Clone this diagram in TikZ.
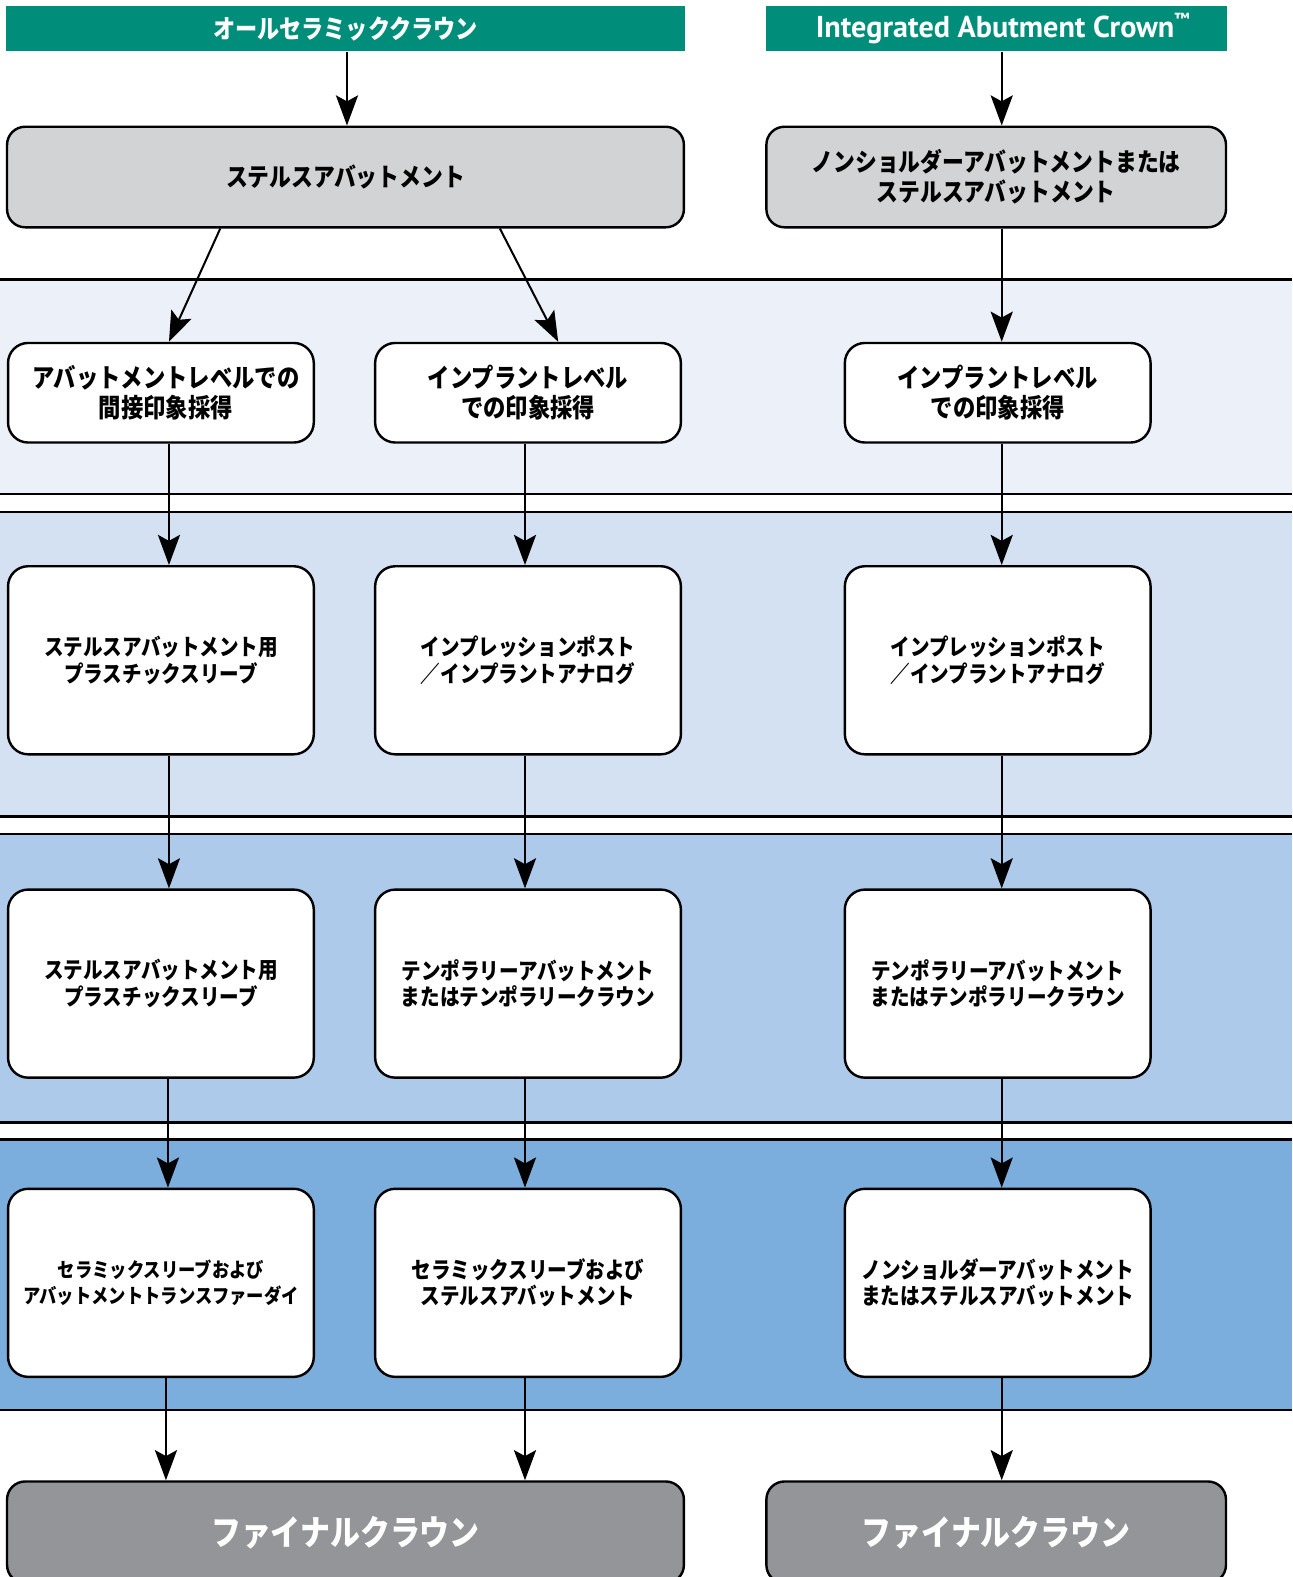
\documentclass[tikz,border=0pt]{standalone}
\usepackage{fontspec}
\setmainfont{Noto Sans CJK JP}[FakeStretch=0.86]
\newfontfamily\latinhead{PT Sans}
\usetikzlibrary{arrows.meta}

\definecolor{headteal}{RGB}{0,142,122}
\definecolor{boxgray}{RGB}{209,211,212}
\definecolor{finalgray}{RGB}{147,149,152}
\definecolor{bandA}{RGB}{236,241,249}
\definecolor{bandB}{RGB}{212,225,242}
\definecolor{bandC}{RGB}{173,202,234}
\definecolor{bandD}{RGB}{123,174,221}

\begin{document}
\begin{tikzpicture}[x=0.5pt,y=-0.5pt,
  header/.style={fill=headteal, text=white, minimum height=22.5pt, inner sep=0pt},
  topbox/.style={draw=black, line width=1.2pt, rounded corners=9pt, fill=boxgray,
    minimum height=50pt, inner sep=0pt, align=center,
    font=\bfseries\fontsize{12.6}{15}\selectfont},
  stepbox/.style={draw=black, line width=1.2pt, rounded corners=10pt, fill=white,
    minimum width=152pt, inner sep=0pt, align=center},
  lvlone/.style={stepbox, minimum height=49.5pt, font=\bfseries\fontsize{12.9}{15}\selectfont},
  lvlmid/.style={stepbox, minimum height=93.5pt, font=\bfseries\fontsize{11.3}{13.2}\selectfont},
  finalbox/.style={draw=black, line width=1.2pt, rounded corners=9pt, fill=finalgray,
    text=white, minimum height=50.5pt, inner sep=0pt,
    font=\bfseries\fontsize{17.3}{20}\selectfont},
  bandline/.style={line width=1.2pt, draw=black},
  arr/.style={line width=1pt, -{Stealth[length=15pt,width=11pt,inset=3pt]}}
]
\useasboundingbox (0,0) rectangle (1285,1568);
\clip (0,0) rectangle (1285,1568);
\fill[white] (0,0) rectangle (1285,1568);

% coloured stage bands
\fill[bandA] (0,278) rectangle (1285,491);
\fill[bandB] (0,509) rectangle (1285,812);
\fill[bandC] (0,829) rectangle (1285,1116);
\fill[bandD] (0,1133) rectangle (1285,1402);
\foreach \yy in {278,491,509,812,829,1116,1133,1402}
  \draw[bandline] (0,\yy) -- (1285,\yy);

% column guides for vertical connectors
\coordinate (xa) at (168,0);
\coordinate (xa3) at (167,0);
\coordinate (xa4) at (165,0);
\coordinate (xb) at (522,0);
\coordinate (xc) at (996,0);
\coordinate (xl) at (345,0);
\coordinate (dl) at (219,0);
\coordinate (dr) at (497,0);
\coordinate (er) at (555,0);

% headers
\node[header, minimum width=337.5pt, font=\bfseries\fontsize{12.8}{15}\selectfont]
  (hl) at (343.5,28.5) {オールセラミッククラウン};
\node[header, minimum width=229pt, text height=11pt, text depth=2.5pt,
  font=\latinhead\bfseries\fontsize{15}{17}\selectfont]
  (hr) at (991,28.5) {\hspace*{6pt}Integrated Abutment Crown\raisebox{0.42em}{\fontsize{8}{8}\selectfont™}};

% abutment selection
\node[topbox, minimum width=336.5pt] (tl) at (343.5,176) {ステルスアバットメント};
\node[topbox, minimum width=228.5pt] (tr) at (990.5,176)
  {ノンショルダーアバットメントまたは\\ステルスアバットメント};

% impression taking
\node[lvlone] (a1) at (160,390.5) {\hspace*{5pt}アバットメントレベルでの\\\hspace*{5pt}間接印象採得};
\node[lvlone] (b1) at (525,390.5) {インプラントレベル\\での印象採得};
\node[lvlone] (c1) at (992,390.5) {インプラントレベル\\での印象採得};

% laboratory components
\node[lvlmid] (a2) at (160,656.5) {ステルスアバットメント用\\プラスチックスリーブ};
\node[lvlmid] (b2) at (525,656.5) {インプレッションポスト\\／インプラントアナログ};
\node[lvlmid] (c2) at (992,656.5) {インプレッションポスト\\／インプラントアナログ};

\node[lvlmid] (a3) at (160,978) {ステルスアバットメント用\\プラスチックスリーブ};
\node[lvlmid] (b3) at (525,978) {テンポラリーアバットメント\\またはテンポラリークラウン};
\node[lvlmid] (c3) at (992,978) {テンポラリーアバットメント\\またはテンポラリークラウン};

\node[lvlmid, font=\bfseries\fontsize{10}{13}\selectfont] (a4) at (160,1275.5)
  {セラミックスリーブおよび\\アバットメントトランスファーダイ};
\node[lvlmid] (b4) at (525,1275.5) {セラミックスリーブおよび\\ステルスアバットメント};
\node[lvlmid] (c4) at (992,1275.5) {ノンショルダーアバットメント\\またはステルスアバットメント};

% final restorations
\node[finalbox, minimum width=336.5pt] (fl) at (343.5,1523.5) {ファイナルクラウン};
\node[finalbox, minimum width=228.5pt] (fr) at (990.5,1523.5) {ファイナルクラウン};

% connectors
\draw[arr] (hl.south -| xl) -- (tl.north -| xl);
\draw[arr] (hr.south -| xc) -- (tr.north -| xc);
\draw[arr] (tl.south -| dl) -- (a1.north -| xa);
\draw[arr] (tl.south -| dr) -- (b1.north -| er);
\draw[arr] (tr.south -| xc) -- (c1.north -| xc);

\draw[arr] (a1.south -| xa) -- (a2.north -| xa);
\draw[arr] (a2.south -| xa) -- (a3.north -| xa);
\draw[arr] (a3.south -| xa3) -- (a4.north -| xa3);
\draw[arr] (a4.south -| xa4) -- (fl.north -| xa4);

\draw[arr] (b1.south -| xb) -- (b2.north -| xb);
\draw[arr] (b2.south -| xb) -- (b3.north -| xb);
\draw[arr] (b3.south -| xb) -- (b4.north -| xb);
\draw[arr] (b4.south -| xb) -- (fl.north -| xb);

\draw[arr] (c1.south -| xc) -- (c2.north -| xc);
\draw[arr] (c2.south -| xc) -- (c3.north -| xc);
\draw[arr] (c3.south -| xc) -- (c4.north -| xc);
\draw[arr] (c4.south -| xc) -- (fr.north -| xc);
\end{tikzpicture}
\end{document}
